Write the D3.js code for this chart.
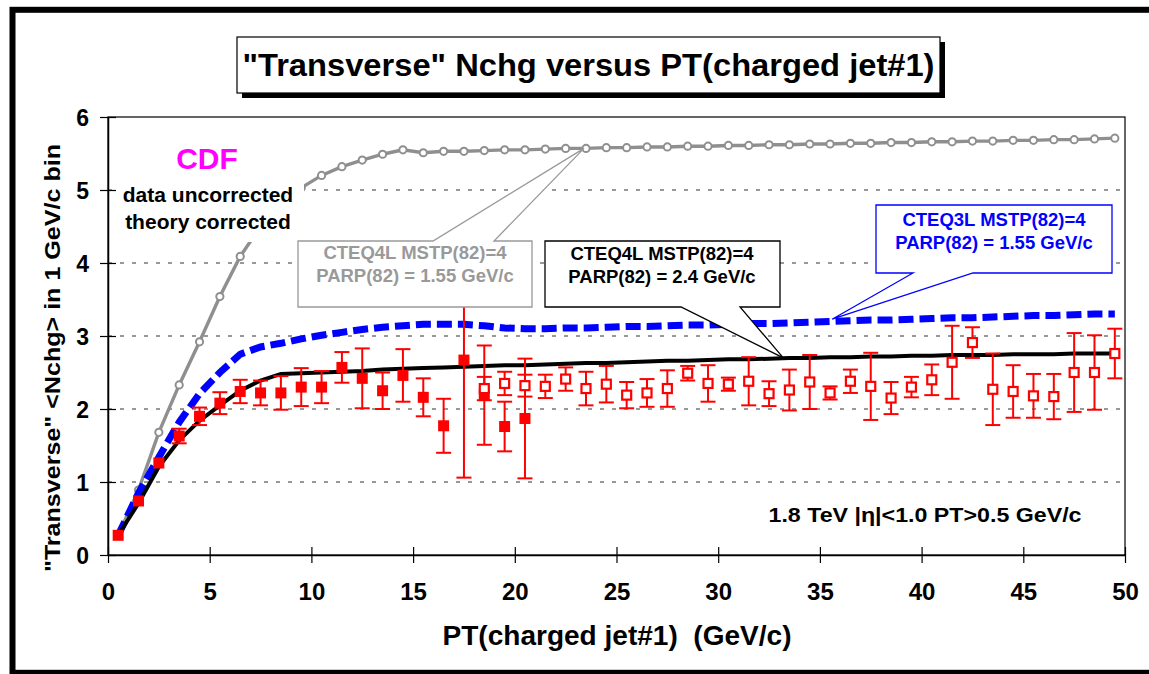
<!DOCTYPE html>
<html>
<head>
<meta charset="utf-8">
<script src="https://cdn.jsdelivr.net/npm/d3@7/dist/d3.min.js"></script>
<style>
  body { margin: 0; background: #fff; }
  svg text { font-family: "Liberation Sans", Arial, Helvetica, sans-serif; font-weight: bold; white-space: pre; }
</style>
</head>
<body>
<svg id="chart" width="1149" height="674"></svg>
<script>
// ---- data -----------------------------------------------------------
// PT(charged jet#1) bin centres, 1 GeV/c bins
const ptBins = d3.range(0.5, 50, 1);

// PYTHIA CTEQ4L MSTP(82)=4 PARP(82)=1.55 GeV/c
const cteq4lLow = [0.27, 0.89, 1.68, 2.33, 2.92, 3.54, 4.09, 4.50, 4.80, 5.03,
                   5.20, 5.32, 5.41, 5.49, 5.55, 5.51, 5.53, 5.53, 5.54, 5.55,
                   5.55, 5.56, 5.57, 5.57, 5.58, 5.58, 5.59, 5.59, 5.60, 5.60,
                   5.61, 5.61, 5.62, 5.62, 5.63, 5.63, 5.64, 5.64, 5.65, 5.65,
                   5.66, 5.66, 5.67, 5.67, 5.68, 5.68, 5.69, 5.69, 5.70, 5.71];

// PYTHIA CTEQ3L MSTP(82)=4 PARP(82)=1.55 GeV/c
const cteq3l = [0.27, 0.85, 1.34, 1.82, 2.21, 2.50, 2.75, 2.85, 2.90, 2.96,
                3.01, 3.05, 3.09, 3.12, 3.14, 3.16, 3.16, 3.16, 3.14, 3.11,
                3.10, 3.10, 3.11, 3.11, 3.12, 3.13, 3.13, 3.14, 3.15, 3.15,
                3.16, 3.17, 3.17, 3.18, 3.19, 3.20, 3.21, 3.22, 3.22, 3.23,
                3.24, 3.25, 3.25, 3.26, 3.27, 3.28, 3.28, 3.29, 3.30, 3.30];

// PYTHIA CTEQ4L MSTP(82)=4 PARP(82)=2.4 GeV/c
const cteq4lHigh = [0.27, 0.71, 1.21, 1.57, 1.84, 2.05, 2.25, 2.39, 2.48, 2.49,
                    2.50, 2.51, 2.52, 2.54, 2.55, 2.56, 2.57, 2.58, 2.59, 2.60,
                    2.60, 2.61, 2.62, 2.63, 2.63, 2.64, 2.65, 2.66, 2.66, 2.67,
                    2.68, 2.68, 2.69, 2.70, 2.70, 2.71, 2.71, 2.72, 2.72, 2.73,
                    2.73, 2.74, 2.74, 2.74, 2.75, 2.75, 2.75, 2.76, 2.76, 2.76];

// CDF data, min-bias sample (filled squares)
const ptMinBias  = d3.range(0.5, 21, 1);
const nchMinBias = [0.27, 0.74, 1.26, 1.63, 1.90, 2.08, 2.24, 2.22, 2.22, 2.30,
                    2.30, 2.57, 2.42, 2.25, 2.46, 2.16, 1.77, 2.67, 2.19, 1.76, 1.87];
const errMinBias = [0.03, 0.05, 0.06, 0.10, 0.12, 0.15, 0.16, 0.17, 0.23, 0.26,
                    0.22, 0.21, 0.41, 0.25, 0.36, 0.26, 0.37, 1.61, 0.68, 0.34, 0.82];

// CDF data, jet20 sample (open squares)
const ptJet20  = d3.range(18.5, 50, 1);
const nchJet20 = [2.28, 2.35, 2.32, 2.31, 2.41, 2.28, 2.34, 2.19, 2.22, 2.28,
                  2.49, 2.35, 2.34, 2.38, 2.21, 2.26, 2.37, 2.22, 2.38, 2.31,
                  2.15, 2.30, 2.40, 2.64, 2.91, 2.27, 2.24, 2.18, 2.17, 2.50,
                  2.50, 2.76];
const errJet20 = [0.16, 0.16, 0.15, 0.16, 0.16, 0.23, 0.25, 0.18, 0.19, 0.25,
                  0.10, 0.25, 0.09, 0.33, 0.17, 0.28, 0.37, 0.09, 0.16, 0.46,
                  0.22, 0.14, 0.21, 0.50, 0.21, 0.49, 0.36, 0.30, 0.31, 0.54,
                  0.51, 0.34];

const xTicks = [0, 5, 10, 15, 20, 25, 30, 35, 40, 45, 50];
const yTicks = [0, 1, 2, 3, 4, 5, 6];
const yGrid  = [1, 2, 3, 4, 5];

// ---- layout ---------------------------------------------------------
const svg = d3.select("#chart");
const plot = { left: 108, right: 1125, top: 117, bottom: 555 };

const x = d3.scaleLinear().domain([0, 50]).range([plot.left, plot.right]);
const y = d3.scaleLinear().domain([0, 6]).range([plot.bottom, plot.top]);

// outer frame
svg.append("rect")
  .attr("x", 12.5).attr("y", 9.8).attr("width", 1160).attr("height", 663)
  .attr("fill", "none").attr("stroke", "#000").attr("stroke-width", 6);

// title box with drop shadow
const titleBox = { x: 237, y: 37, w: 703, h: 56 };
svg.append("rect")
  .attr("x", titleBox.x + 5).attr("y", titleBox.y + 5)
  .attr("width", titleBox.w).attr("height", titleBox.h).attr("fill", "#000");
svg.append("rect")
  .attr("x", titleBox.x).attr("y", titleBox.y)
  .attr("width", titleBox.w).attr("height", titleBox.h)
  .attr("fill", "#fff").attr("stroke", "#000").attr("stroke-width", 1.2);
svg.append("text")
  .attr("x", titleBox.x + titleBox.w / 2).attr("y", 76)
  .attr("text-anchor", "middle").attr("font-size", 31)
  .attr("textLength", 692).attr("lengthAdjust", "spacingAndGlyphs")
  .text('"Transverse" Nchg versus PT(charged jet#1)');

// dashed grid lines
svg.append("g").selectAll("line").data(yGrid).join("line")
  .attr("x1", plot.left).attr("x2", plot.right)
  .attr("y1", d => y(d)).attr("y2", d => y(d))
  .attr("stroke", "#333").attr("stroke-width", 1)
  .attr("stroke-dasharray", "4,8");

// plot frame
svg.append("rect")
  .attr("x", plot.left).attr("y", plot.top)
  .attr("width", plot.right - plot.left).attr("height", plot.bottom - plot.top)
  .attr("fill", "none").attr("stroke", "#000").attr("stroke-width", 1.2);

// axes
const xAxis = svg.append("g")
  .attr("transform", `translate(0,${plot.bottom})`)
  .call(d3.axisBottom(x).tickValues(xTicks).tickFormat(d3.format("d"))
    .tickSize(8).tickSizeOuter(0));
xAxis.select(".domain").attr("stroke-width", 1.5);
xAxis.selectAll(".tick line").attr("y1", -8).attr("y2", 8).attr("stroke-width", 1.2);
xAxis.selectAll(".tick text")
  .attr("y", 45).attr("dy", 0)
  .attr("font-size", 24).attr("font-family", null).attr("fill", "#000");

const yAxis = svg.append("g")
  .attr("transform", `translate(${plot.left},0)`)
  .call(d3.axisLeft(y).tickValues(yTicks).tickFormat(d3.format("d"))
    .tickSize(8).tickSizeOuter(0));
yAxis.select(".domain").attr("stroke-width", 1.5);
yAxis.selectAll(".tick line").attr("x1", -8).attr("x2", 8).attr("stroke-width", 1.2);
yAxis.selectAll(".tick text")
  .attr("x", -19).attr("dy", "0.36em")
  .attr("font-size", 23).attr("font-family", null).attr("fill", "#000");

// axis titles
svg.append("text")
  .attr("x", 617).attr("y", 645).attr("text-anchor", "middle")
  .attr("font-size", 27).attr("textLength", 349).attr("lengthAdjust", "spacingAndGlyphs")
  .text("PT(charged jet#1)\u00a0 (GeV/c)");
svg.append("text")
  .attr("transform", "translate(60,358) rotate(-90)")
  .attr("text-anchor", "middle").attr("font-size", 22)
  .attr("textLength", 428).attr("lengthAdjust", "spacingAndGlyphs")
  .text('"Transverse" <Nchg> in 1 GeV/c bin');

// ---- theory curves --------------------------------------------------
const line = vals => d3.line().x((d, i) => x(ptBins[i])).y(d => y(d))(vals);

// CTEQ4L PARP(82)=1.55 : grey line with open circles
svg.append("path").attr("d", line(cteq4lLow))
  .attr("fill", "none").attr("stroke", "#8f8f8f").attr("stroke-width", 3.4);
svg.append("g").selectAll("circle").data(cteq4lLow).join("circle")
  .attr("cx", (d, i) => x(ptBins[i])).attr("cy", d => y(d)).attr("r", 3.6)
  .attr("fill", "#fff").attr("stroke", "#8f8f8f").attr("stroke-width", 2);

// CTEQ3L : thick blue dashes
svg.append("path").attr("d", line(cteq3l))
  .attr("fill", "none").attr("stroke", "#0000ff").attr("stroke-width", 7)
  .attr("stroke-dasharray", "15,6");

// CTEQ4L PARP(82)=2.4 : solid black
svg.append("path").attr("d", line(cteq4lHigh))
  .attr("fill", "none").attr("stroke", "#000").attr("stroke-width", 4);

// ---- data points ----------------------------------------------------
const red = "#ff0000";
// vertical error bars; caps are skipped when the bar stays inside the marker
function errorBars(pts, vals, errs, markerHalf) {
  const g = svg.append("g").attr("stroke", red).attr("stroke-width", 2).attr("fill", "none");
  pts.forEach((p, i) => {
    const cx = x(p), top = y(vals[i] + errs[i]), bot = y(vals[i] - errs[i]);
    g.append("line").attr("x1", cx).attr("x2", cx).attr("y1", top).attr("y2", bot);
    if ((bot - top) / 2 > markerHalf) {
      g.append("line").attr("x1", cx - 7.5).attr("x2", cx + 7.5).attr("y1", top).attr("y2", top);
      g.append("line").attr("x1", cx - 7.5).attr("x2", cx + 7.5).attr("y1", bot).attr("y2", bot);
    }
  });
}
errorBars(ptMinBias, nchMinBias, errMinBias, 5.5);
svg.append("g").selectAll("rect").data(nchMinBias).join("rect")
  .attr("x", (d, i) => x(ptMinBias[i]) - 5.5).attr("y", d => y(d) - 5.5)
  .attr("width", 11).attr("height", 11).attr("fill", red);

errorBars(ptJet20, nchJet20, errJet20, 4.5);
svg.append("g").selectAll("rect").data(nchJet20).join("rect")
  .attr("x", (d, i) => x(ptJet20[i]) - 4.5).attr("y", d => y(d) - 4.5)
  .attr("width", 9).attr("height", 9)
  .attr("fill", "#fff").attr("stroke", red).attr("stroke-width", 2.2);

// ---- annotations ----------------------------------------------------
// CDF note (white background box)
svg.append("rect").attr("x", 116).attr("y", 136).attr("width", 188).attr("height", 106)
  .attr("fill", "#fff");
svg.append("text").attr("x", 207).attr("y", 169).attr("text-anchor", "middle")
  .attr("font-size", 30).attr("fill", "#ff00ff").text("CDF");
svg.append("text").attr("x", 208).attr("y", 202).attr("text-anchor", "middle")
  .attr("font-size", 21).text("data uncorrected");
svg.append("text").attr("x", 208).attr("y", 228.5).attr("text-anchor", "middle")
  .attr("font-size", 21).text("theory corrected");

// callout boxes
function callout(pathD, stroke, lines, cx, baselines, color) {
  svg.append("path").attr("d", pathD)
    .attr("fill", "#fff").attr("stroke", stroke).attr("stroke-width", 1.3)
    .attr("stroke-linejoin", "miter");
  lines.forEach((t, i) => {
    svg.append("text").attr("x", cx).attr("y", baselines[i])
      .attr("text-anchor", "middle").attr("font-size", 18.5)
      .attr("fill", color).text(t);
  });
}

const tipGrey  = [x(23.4), y(d3.mean([cteq4lLow[22], cteq4lLow[23]]))];
const tipBlack = [x(33.2), y(2.70)];
const tipBlue  = [x(35.6), y(3.23)];

callout(`M298,241 H433 L${tipGrey[0]},${tipGrey[1]} L494,241 H532 V307 H298 Z`,
  "#999", ["CTEQ4L MSTP(82)=4", "PARP(82) = 1.55 GeV/c"], 415, [259, 282], "#999");
callout(`M545,241 H780 V307 H740 L${tipBlack[0]},${tipBlack[1]} L681,307 H545 Z`,
  "#000", ["CTEQ4L MSTP(82)=4", "PARP(82) = 2.4 GeV/c"], 662, [260, 283], "#000");
callout(`M876,205 H1112 V273 H973 L${tipBlue[0]},${tipBlue[1]} L913,273 H876 Z`,
  "#0000ff", ["CTEQ3L MSTP(82)=4", "PARP(82) = 1.55 GeV/c"], 994, [226, 249], "#0000ff");

// run conditions
svg.append("text").attr("x", 925).attr("y", 522).attr("text-anchor", "middle")
  .attr("font-size", 20).attr("textLength", 313).attr("lengthAdjust", "spacingAndGlyphs")
  .text("1.8 TeV |η|<1.0 PT>0.5 GeV/c");
</script>
</body>
</html>
